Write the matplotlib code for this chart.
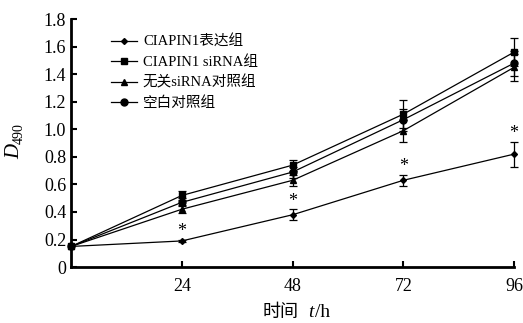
import matplotlib.pyplot as plt

plt.rcParams['font.family'] = ['Liberation Serif', 'Noto Sans CJK SC']

hours = [0, 24, 48, 72, 96]
labels = ['CIAPIN1表达组', 'CIAPIN1 siRNA组', '无关siRNA对照组', '空白对照组']
markers = ['D', 's', '^', 'o']
sizes = [3, 5, 5, 5]

expr = [0.15, 0.19, 0.38, 0.63, 0.82]
expr_err = [0.01, 0.01, 0.04, 0.04, 0.09]
sirna = [0.15, 0.52, 0.74, 1.11, 1.56]
sirna_err = [0.01, 0.03, 0.04, 0.10, 0.10]
neg = [0.15, 0.42, 0.63, 0.99, 1.45]
neg_err = [0.01, 0.03, 0.04, 0.08, 0.10]
blank = [0.15, 0.47, 0.69, 1.07, 1.48]
blank_err = [0.01, 0.03, 0.04, 0.08, 0.09]

series = [expr, sirna, neg, blank]
errors = [expr_err, sirna_err, neg_err, blank_err]

fig = plt.figure(figsize=(5.23, 3.23), dpi=100)
ax = fig.add_axes([0.136, 0.173, 0.847, 0.768])

for vals, err, lab, m, s in zip(series, errors, labels, markers, sizes):
    eb = ax.errorbar(hours[1:], vals[1:], yerr=err[1:], fmt='none', ecolor='black',
                     capsize=3, elinewidth=0.9, capthick=0.9)
    for art in eb.lines[1] + eb.lines[2]:
        art.set_clip_on(False)
    ax.plot(hours, vals, color='black', lw=0.9, marker=m, ms=s, label=lab, clip_on=False)

# significance marks above the over-expression group
for x, y, e in zip(hours[1:], expr[1:], expr_err[1:]):
    ax.text(x, y + e - 0.005, '*', ha='center', va='bottom', fontsize=13)

ax.set_xlim(0, 96)
ax.set_ylim(0, 1.8)
ax.set_xticks(hours[1:])
ax.set_yticks([0, 0.2, 0.4, 0.6, 0.8, 1.0, 1.2, 1.4, 1.6, 1.8])
ax.set_yticklabels(['0', '0.2', '0.4', '0.6', '0.8', '1.0', '1.2', '1.4', '1.6', '1.8'])
ax.tick_params(direction='in', length=4, width=1.5, labelsize=13)
ax.tick_params(axis='x', pad=8)
for side in ['top', 'right']:
    ax.spines[side].set_visible(False)
for side in ['left', 'bottom']:
    ax.spines[side].set_linewidth(2)

# y label: italic D with subscript 490
fig.text(0.029, 0.530, 'D', style='italic', fontsize=15, rotation=90, ha='center', va='center')
fig.text(0.037, 0.588, '490', fontsize=10, rotation=90, ha='center', va='center')

# x label: 时间 t/h
fig.text(0.570, 0.034, '时间', fontsize=13, ha='right', va='center')
fig.text(0.589, 0.034, 't', fontsize=14, style='italic', ha='left', va='center')
fig.text(0.602, 0.034, '/h', fontsize=14, ha='left', va='center')

ax.legend(loc='upper left', bbox_to_anchor=(0.06, 0.99), frameon=False, fontsize=10.5,
          handlelength=1.8, labelspacing=0.45, handletextpad=0.4)

fig.savefig('out.png', dpi=100)
